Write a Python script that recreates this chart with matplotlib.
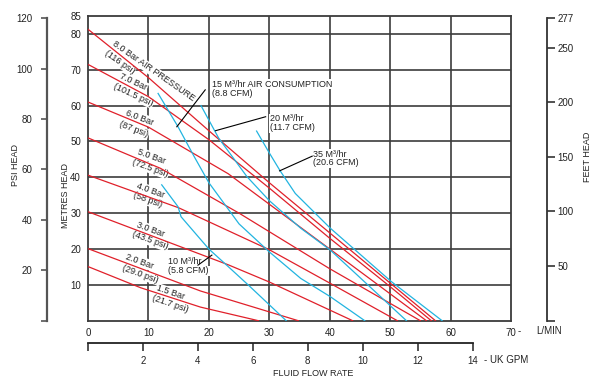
import matplotlib
matplotlib.use("Agg")
import matplotlib.pyplot as plt

plt.rcParams['font.family'] = ['Liberation Sans', 'DejaVu Sans']

# air pressure curves (flow L/min, head metres)
bar80_q = [0, 10, 20, 30, 40, 50, 57.5]
bar80_h = [81.3, 67.8, 53.0, 38.5, 24.5, 10.5, 0]
bar70_q = [0, 10, 20, 30, 40, 50, 56.8]
bar70_h = [71.5, 62.5, 50.5, 37.0, 23.0, 9.5, 0]
bar60_q = [0, 10, 23.2, 40, 56]
bar60_h = [61, 54, 41, 20, 0]
bar50_q = [0, 12, 25, 40, 55]
bar50_h = [51, 42.5, 30, 14.5, 0]
bar40_q = [0, 15, 30, 40, 51.2]
bar40_h = [40.6, 31.5, 19.8, 10.5, 0]
bar30_q = [0, 23.2, 30, 43.8]
bar30_h = [30.4, 15.6, 10.8, 0]
bar20_q = [0, 18.6, 34.8]
bar20_h = [20.1, 8.3, 0]
bar15_q = [0, 8.7, 18.6, 28.2]
bar15_h = [15.1, 9.2, 3.8, 0]

# air consumption curves
air10_q = [12.2, 14.9, 15.4, 20.0, 23.2, 26.5, 32.8]
air10_h = [37.9, 31.8, 29.0, 20.0, 15.1, 10.0, 0]
air15_q = [11.6, 14.9, 17.5, 20.0, 25.0, 30.0, 35.2, 40.1, 45.8]
air15_h = [63.4, 54.1, 46.0, 38.5, 27.0, 19.2, 11.8, 6.7, 0]
air20_q = [18.7, 21.6, 26.3, 30.0, 35.2, 40.1, 52.7]
air20_h = [60.0, 51.0, 40.2, 33.5, 25.8, 19.7, 0]
air35_q = [27.9, 29.9, 31.8, 34.3, 40.1, 50.2, 58.6]
air35_h = [52.9, 47.1, 41.8, 35.5, 25.8, 10.9, 0]

metre_ticks = [10, 20, 30, 40, 50, 60, 70, 80, 85]
lmin_ticks = [0, 10, 20, 30, 40, 50, 60, 70]
psi_ticks = [0, 20, 40, 60, 80, 100, 120]
feet_ticks = [0, 50, 100, 150, 200, 250, 277]
gpm_ticks = [0, 2, 4, 6, 8, 10, 12, 14]

M_PER_PSI = 0.70307
M_PER_FT = 0.3048
LMIN_PER_GPM = 4.54609

red = '#e0202a'
blue = '#22b4e0'
grid_c = '#3c3c3c'
txt = '#222222'
fs = 6.5
tfs = 7

fig = plt.figure(figsize=(6, 3.88), dpi=100)
W, H = 600.0, 388.0
x0, x1 = 88, 511
y0, y1 = 320.7, 16
ax = fig.add_axes([x0 / W, 1 - y0 / H, (x1 - x0) / W, (y0 - y1) / H])
ax.set_xlim(0, 70)
ax.set_ylim(0, 85)

for v in [10, 20, 30, 40, 50, 60]:
    ax.axvline(v, color=grid_c, lw=1.2, zorder=1)
for v in [10, 20, 30, 40, 50, 60, 70, 80]:
    ax.axhline(v, color=grid_c, lw=1.2, zorder=1)

for sp in ax.spines.values():
    sp.set_color(grid_c)
    sp.set_linewidth(1.3)

ax.set_yticks(metre_ticks)
ax.set_yticklabels([str(t) for t in metre_ticks])
ax.set_xticks(lmin_ticks)
ax.set_xticklabels([str(t) for t in lmin_ticks])
ax.tick_params(length=0, labelsize=tfs, colors=txt, pad=5)

for q, h in [(bar80_q, bar80_h), (bar70_q, bar70_h), (bar60_q, bar60_h),
             (bar50_q, bar50_h), (bar40_q, bar40_h), (bar30_q, bar30_h),
             (bar20_q, bar20_h), (bar15_q, bar15_h)]:
    ax.plot(q, h, color=red, lw=0.9, zorder=3)
for q, h in [(air10_q, air10_h), (air15_q, air15_h), (air20_q, air20_h),
             (air35_q, air35_h)]:
    ax.plot(q, h, color=blue, lw=0.9, zorder=3)

box = dict(facecolor='white', edgecolor='none', pad=0.6)
bar_labels = [
    ("8.0 Bar AIR PRESSURE", 10.8, 69.6, -35),
    ("(116 psi)", 5.2, 72.2, -35),
    ("7.0 Bar", 7.5, 66.6, -25),
    ("(101.5 psi)", 7.5, 63.0, -25),
    ("6.0 Bar", 8.5, 56.6, -21),
    ("(87 psi)", 7.6, 53.5, -21),
    ("5.0 Bar", 10.5, 45.7, -20),
    ("(72.5 psi)", 10.3, 42.6, -20),
    ("4.0 Bar", 10.3, 36.2, -20),
    ("(58 psi)", 9.8, 33.6, -20),
    ("3.0 Bar", 10.3, 25.4, -20),
    ("(43.5 psi)", 10.3, 22.4, -20),
    ("2.0 Bar", 8.6, 16.5, -20),
    ("(29.0 psi)", 8.6, 13.1, -20),
    ("1.5 Bar", 13.6, 7.8, -19),
    ("(21.7 psi)", 13.6, 4.8, -19),
]
for s, x, y, r in bar_labels:
    ax.text(x, y, s, rotation=r, ha='center', va='center', fontsize=fs,
            color=txt, bbox=box, zorder=2, rotation_mode='anchor')

notes = [
    ("15 M\u00b3/hr AIR CONSUMPTION", "(8.8 CFM)", 20.5, 66.0, 63.5, (19.4, 64.4), (14.7, 54.1)),
    ("20 M\u00b3/hr", "(11.7 CFM)", 30.1, 56.3, 53.8, (29.4, 56.9), (21.1, 53.0)),
    ("35 M\u00b3/hr", "(20.6 CFM)", 37.3, 46.5, 44.0, (37.1, 45.9), (31.7, 41.8)),
    ("10 M\u00b3/hr", "(5.8 CFM)", 13.3, 16.4, 13.9, (18.2, 15.5), (20.5, 18.3)),
]
for a, b, x, ya, yb, p0, p1 in notes:
    ax.text(x, ya, a, ha='left', va='center', fontsize=fs, color=txt, bbox=box, zorder=2)
    ax.text(x, yb, b, ha='left', va='center', fontsize=fs, color=txt, bbox=box, zorder=2)
    ax.plot([p0[0], p1[0]], [p0[1], p1[1]], color='black', lw=0.8, zorder=4)

# PSI axis on the far left
ax_psi = fig.add_axes([46.7 / W, 1 - y0 / H, 0.001, (y0 - y1) / H])
ax_psi.set_ylim(0, 85 / M_PER_PSI)
ax_psi.patch.set_visible(False)
for k in ['top', 'right', 'bottom']:
    ax_psi.spines[k].set_visible(False)
ax_psi.spines['left'].set_bounds(0, 120)
ax_psi.spines['left'].set_color('#555555')
ax_psi.spines['left'].set_linewidth(1.6)
ax_psi.set_xticks([])
ax_psi.set_yticks(psi_ticks)
ax_psi.set_yticklabels(['' if t == 0 else str(t) for t in psi_ticks])
ax_psi.tick_params(axis='y', length=4.5, width=1.2, color='#555555',
                   labelsize=tfs, labelcolor=txt, pad=6)

# feet axis on the right
ax_ft = fig.add_axes([546.7 / W, 1 - y0 / H, 0.001, (y0 - y1) / H])
ax_ft.set_ylim(0, 85 / M_PER_FT)
ax_ft.patch.set_visible(False)
for k in ['top', 'left', 'bottom']:
    ax_ft.spines[k].set_visible(False)
ax_ft.spines['right'].set_position(('axes', 0))
ax_ft.spines['right'].set_bounds(0, 277)
ax_ft.spines['right'].set_color('#333333')
ax_ft.spines['right'].set_linewidth(1.3)
ax_ft.yaxis.tick_right()
ax_ft.set_xticks([])
ax_ft.set_yticks(feet_ticks)
ax_ft.set_yticklabels(['' if t == 0 else str(t) for t in feet_ticks])
ax_ft.tick_params(axis='y', length=6, width=1.2, color='#333333',
                  labelsize=tfs, labelcolor=txt, pad=2)

# UK GPM axis below
ax_g = fig.add_axes([x0 / W, 1 - 343.3 / H, (x1 - x0) / W, 0.001])
ax_g.set_xlim(0, 70 / LMIN_PER_GPM)
ax_g.patch.set_visible(False)
for k in ['top', 'left', 'right']:
    ax_g.spines[k].set_visible(False)
ax_g.spines['bottom'].set_bounds(0, 14)
ax_g.spines['bottom'].set_color('#222222')
ax_g.spines['bottom'].set_linewidth(1.3)
ax_g.set_yticks([])
ax_g.set_xticks(gpm_ticks)
ax_g.set_xticklabels(['' if t == 0 else str(t) for t in gpm_ticks])
ax_g.tick_params(axis='x', length=6, width=1.2, color='#333333',
                 labelsize=tfs, labelcolor=txt, pad=3)

fig.text(518 / W, 1 - 331 / H, "-", fontsize=tfs, color=txt, va='center', ha='left')
fig.text(549 / W, 1 - 331 / H, "L/MIN", fontsize=tfs, color=txt, va='center', ha='center')
fig.text(484 / W, 1 - 360 / H, "- UK GPM", fontsize=tfs, color=txt, va='center', ha='left')
fig.text(313 / W, 1 - 374 / H, "FLUID FLOW RATE", fontsize=fs, color=txt, va='center', ha='center')
fig.text(15 / W, 1 - 165 / H, "PSI HEAD", fontsize=fs, color=txt, rotation=90, va='center', ha='center')
fig.text(65 / W, 1 - 195 / H, "METRES HEAD", fontsize=fs, color=txt, rotation=90, va='center', ha='center')
fig.text(588 / W, 1 - 157 / H, "FEET HEAD", fontsize=fs, color=txt, rotation=90, va='center', ha='center')

fig.savefig("out.png", dpi=100)
